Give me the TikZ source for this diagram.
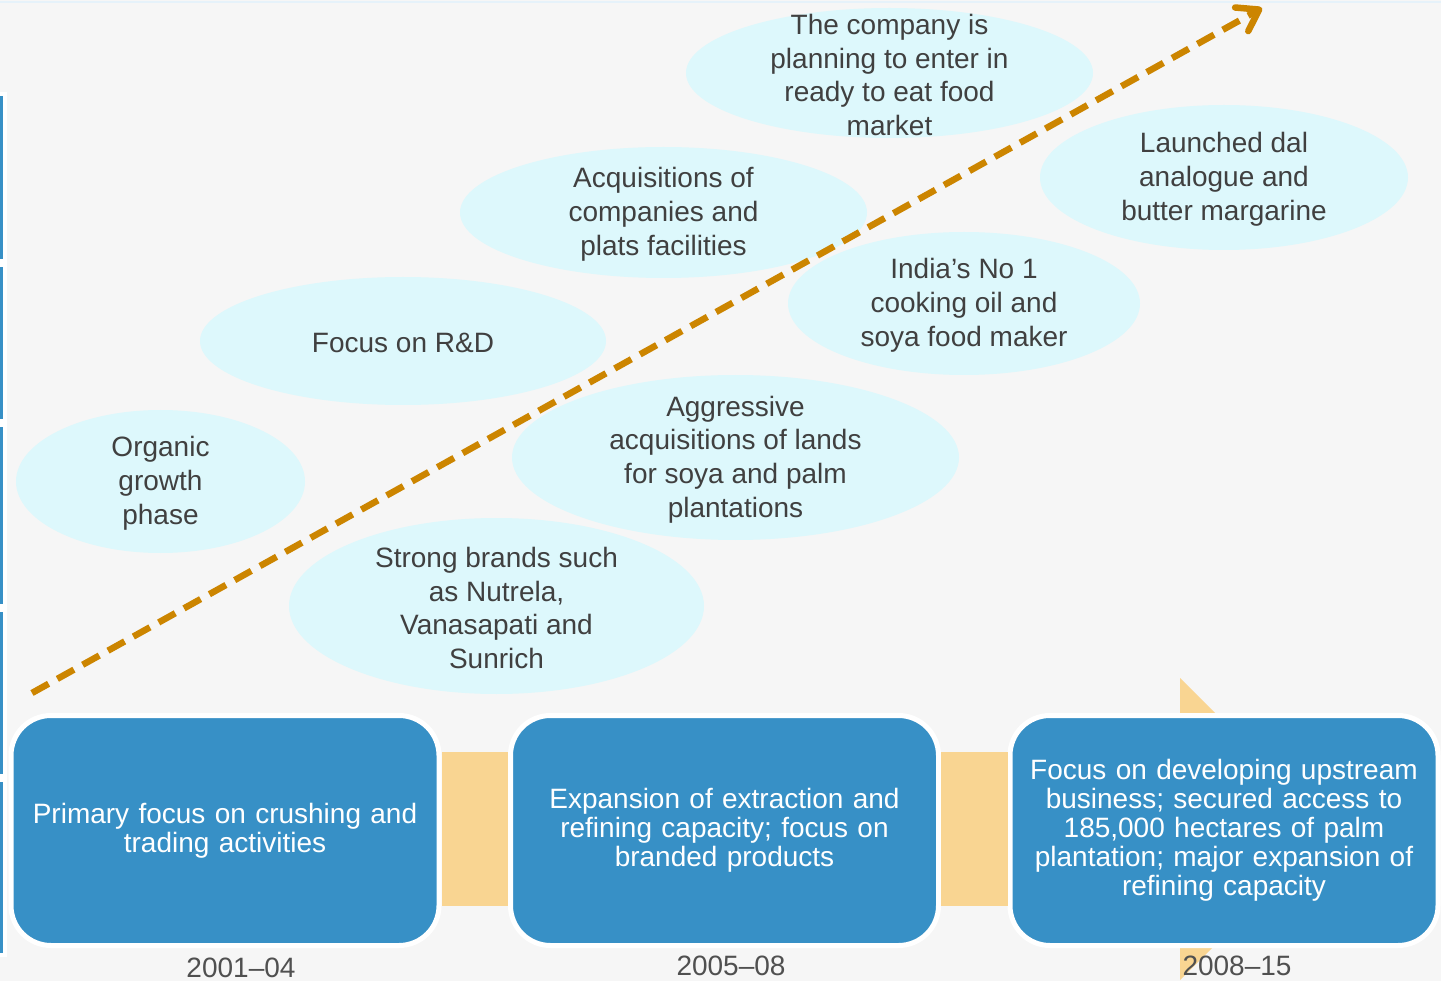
\documentclass[tikz,border=0pt]{standalone}
\usepackage{fontspec}
\setmainfont{Liberation Sans}
\usetikzlibrary{shapes.geometric,arrows.meta,calc}

\definecolor{canvas}{HTML}{F6F6F6}
\definecolor{boxblue}{HTML}{3790C6}
\definecolor{bridge}{HTML}{F9D592}
\definecolor{bubble}{HTML}{DDF8FC}
\definecolor{trend}{HTML}{CC8500}
\definecolor{ink}{HTML}{404040}
\definecolor{yearink}{HTML}{505050}
\definecolor{topline}{HTML}{E6F2FA}

% a light bubble: fill first, then its named text node on top
\newcommand\bubbleat[5]{%
  \fill[bubble] (#2) ellipse [x radius=#3, y radius=#4];
  \node[bubbletext] (#1) at (#2) {#5};}

\begin{document}
\begin{tikzpicture}[x=1pt,y=-1pt,
  bubbletext/.style={inner sep=0pt, align=center, text=ink, yshift=-2pt,
    font=\fontsize{28}{33.8}\selectfont},
  phasebox/.style={rectangle, rounded corners=40pt, fill=boxblue, draw=white,
    line width=5pt, minimum width=428pt, minimum height=230pt,
    text width=410pt, align=center, text=white,
    font=\fontsize{28}{29}\selectfont},
  yearlabel/.style={inner sep=0pt, text=yearink, font=\fontsize{28}{30}\selectfont},
  sidebar/.style={fill=boxblue, draw=white, line width=4pt},
  trendline/.style={draw=trend, line width=6.5pt, dash pattern=on 19pt off 10pt,
    -{Straight Barb[length=20pt,width=27pt,round]}}
]
\useasboundingbox (0,0) rectangle (1441,981);
\fill[canvas] (0,0) rectangle (1441,981);
\draw[topline, line width=2pt] (0,2) -- (1441,2);

% segmented bar along the left edge
\foreach \ya/\yb in {94/261, 265/421, 425/606, 610/776, 780/955}
  \filldraw[sidebar] (-10,\ya) rectangle (5,\yb);

% chevron tip peeking out behind the last phase
\fill[bridge] (1180,678) -- (1331,829) -- (1180,980) -- cycle;

% bubbles
\bubbleat{plan}{889.5,73}{203.5}{65}{The company is\\planning to enter in\\ready to eat food\\market}
\bubbleat{launch}{1224,177.5}{184}{72.5}{Launched dal\\analogue and\\butter margarine}
\bubbleat{acq}{663.5,212.5}{203.5}{65.5}{Acquisitions of\\companies and\\plats facilities}
\bubbleat{india}{964,303.5}{176}{71.5}{India’s No 1\\cooking oil and\\soya food maker}
\bubbleat{rnd}{403,341}{203}{64}{Focus on R\&D}
\bubbleat{lands}{735.5,457.5}{223.5}{82.5}{Aggressive\\acquisitions of lands\\for soya and palm\\plantations}
\bubbleat{organic}{160.5,481.5}{144.5}{71.5}{Organic\\growth\\phase}
\bubbleat{brands}{496.5,606}{207.5}{88}{Strong brands such\\as Nutrela,\\Vanasapati and\\Sunrich}

% rising trend
\coordinate (trendstart) at (32,693);
\coordinate (trendend) at (1262,8);
\draw[trendline] (trendstart) -- (trendend);

% phases
\node[phasebox] (p1) at (225,830.5) {Primary focus on crushing and\\trading activities};
\node[phasebox] (p2) at (724.5,830.5) {Expansion of extraction and\\refining capacity; focus on\\branded products};
\node[phasebox] (p3) at (1224,830.5) {Focus on developing upstream\\business; secured access to\\185,000 hectares of palm\\plantation; major expansion of\\refining capacity};

% bridges between phases
\fill[bridge] ($(p1.east)+(0,-78.5)$) rectangle ($(p2.west)+(0,75.5)$);
\fill[bridge] ($(p2.east)+(0,-78.5)$) rectangle ($(p3.west)+(0,75.5)$);

% period labels
\node[yearlabel] (y1) at (241,967.5) {2001–04};
\node[yearlabel] (y2) at (731,966) {2005–08};
\node[yearlabel] (y3) at (1237,966) {2008–15};
\end{tikzpicture}
\end{document}
